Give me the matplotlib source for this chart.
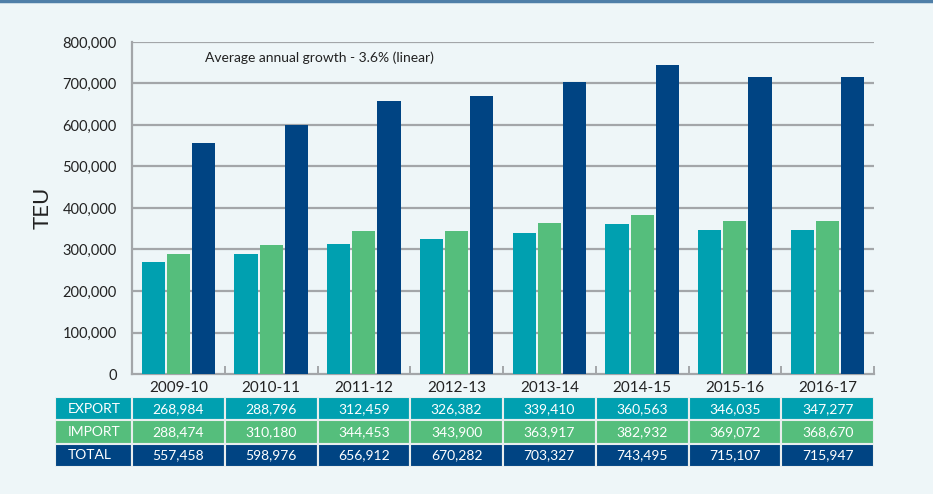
import numpy as np
import matplotlib.pyplot as plt
from matplotlib.lines import Line2D
from matplotlib.patches import Rectangle

plt.rcParams['font.family'] = ['Lato', 'DejaVu Sans']

# data (TEU)
years = ['2009-10', '2010-11', '2011-12', '2012-13', '2013-14', '2014-15', '2015-16', '2016-17']
export = [268984, 288796, 312459, 326382, 339410, 360563, 346035, 347277]
imports = [288474, 310180, 344453, 343900, 363917, 382932, 369072, 368670]
total = [557458, 598976, 656912, 670282, 703327, 743495, 715107, 715947]
row_names = ['EXPORT', 'IMPORT', 'TOTAL']
colors = ['#00A0B0', '#55BE7C', '#004483']
bg = '#EEF6F8'
grid_c = '#A3A6A9'

W, H = 933, 494
fig = plt.figure(figsize=(W / 100, H / 100), dpi=100, facecolor=bg)

# main bar chart
ax = fig.add_axes([132 / W, 1 - 374 / H, (874 - 132) / W, (374 - 42) / H])
ax.set_facecolor(bg)
x = np.arange(len(years))
bw = 0.25
for k, (vals, c) in enumerate(zip([export, imports, total], colors)):
    ax.bar(x + (k - 1) * 0.27, vals, width=bw, color=c, zorder=3)

ax.set_xlim(-0.5, len(years) - 0.5)
ax.set_ylim(0, 800000)
yt = np.arange(0, 800001, 100000)
ax.set_yticks(yt)
ax.set_yticklabels([f'{v:,}' for v in yt], fontsize=10.5, color='#222222')
for v in yt[1:]:
    ax.axhline(v, color=grid_c, lw=1.6, zorder=1)
ax.tick_params(axis='y', length=0, pad=11)

ax.set_xticks(x)
ax.set_xticklabels(years, fontsize=11, color='#222222')
ax.tick_params(axis='x', which='major', length=0, pad=5)
ax.set_xticks(x + 0.5, minor=True)
ax.tick_params(axis='x', which='minor', direction='in', length=6, width=1.4, color=grid_c)

for s in ['top', 'right']:
    ax.spines[s].set_visible(False)
for s in ['left', 'bottom']:
    ax.spines[s].set_color(grid_c)
    ax.spines[s].set_linewidth(1.6)

ax.set_ylabel('TEU', fontsize=16, color='#222222', labelpad=7)
ax.text(0.098, 0.952, 'Average annual growth - 3.6% (linear)', transform=ax.transAxes,
        fontsize=10, color='#222222', va='center', ha='left')

# data table under the chart
tax = fig.add_axes([55 / W, 1 - 467 / H, (874 - 55) / W, (467 - 397) / H])
tax.set_xlim(-0.5 - 77 / 92.75, len(years) - 0.5)
tax.set_ylim(3, 0)
tax.axis('off')
lab_left = -0.5 - 77 / 92.75
for r, (name, vals, c) in enumerate(zip(row_names, [export, imports, total], colors)):
    tax.add_patch(Rectangle((lab_left, r), -0.5 - lab_left, 1, facecolor=c,
                            edgecolor='#E8EEEE', lw=1.5))
    tax.text(lab_left + 0.14, r + 0.5, name, color='white', fontsize=10,
             va='center', ha='left')
    for i, v in enumerate(vals):
        tax.add_patch(Rectangle((i - 0.5, r), 1, 1, facecolor=c, edgecolor='#E8EEEE', lw=1.5))
        tax.text(i, r + 0.5, f'{v:,}', color='white', fontsize=10, va='center', ha='center')

# thin frame line at the very top
fig.add_artist(Line2D([0, 1], [1 - 1 / H, 1 - 1 / H], color='#4F7FA8', lw=2.5))

fig.savefig('out.png', dpi=100, facecolor=bg)
